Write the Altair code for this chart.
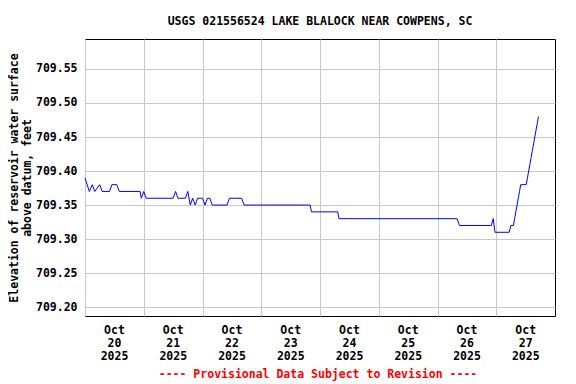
import altair as alt
import pandas as pd

title_text = "USGS 021556524 LAKE BLALOCK NEAR COWPENS, SC"
footer_text = "---- Provisional Data Subject to Revision ----"
y_title = ["Elevation of reservoir water surface", "above datum, feet"]

times = [
    "2025-10-20T00:00", "2025-10-20T01:45", "2025-10-20T03:00", "2025-10-20T04:00",
    "2025-10-20T06:00", "2025-10-20T07:00", "2025-10-20T10:00", "2025-10-20T11:00",
    "2025-10-20T13:00", "2025-10-20T14:00", "2025-10-20T22:30", "2025-10-20T23:00",
    "2025-10-21T00:00", "2025-10-21T01:00", "2025-10-21T12:00", "2025-10-21T13:00",
    "2025-10-21T14:00", "2025-10-21T17:00", "2025-10-21T18:00", "2025-10-21T19:00",
    "2025-10-21T20:00", "2025-10-21T21:00", "2025-10-21T22:00", "2025-10-22T00:00",
    "2025-10-22T01:00", "2025-10-22T02:00", "2025-10-22T03:00", "2025-10-22T04:00",
    "2025-10-22T10:00", "2025-10-22T11:00", "2025-10-22T16:00", "2025-10-22T17:00",
    "2025-10-23T20:00", "2025-10-23T20:30", "2025-10-24T07:15", "2025-10-24T07:45",
    "2025-10-26T08:00", "2025-10-26T09:00", "2025-10-26T21:45", "2025-10-26T22:00",
    "2025-10-26T22:45", "2025-10-26T23:30", "2025-10-27T05:15", "2025-10-27T06:00",
    "2025-10-27T07:00", "2025-10-27T07:30", "2025-10-27T08:00", "2025-10-27T08:30",
    "2025-10-27T09:00", "2025-10-27T09:30", "2025-10-27T10:00", "2025-10-27T12:15",
    "2025-10-27T12:45", "2025-10-27T13:15", "2025-10-27T13:45", "2025-10-27T14:15",
    "2025-10-27T14:45", "2025-10-27T15:15", "2025-10-27T15:45", "2025-10-27T16:15",
    "2025-10-27T16:45", "2025-10-27T17:15",
]
elevation = [
    709.39, 709.37, 709.38, 709.37,
    709.38, 709.37, 709.37, 709.38,
    709.38, 709.37, 709.37, 709.36,
    709.37, 709.36, 709.36, 709.37,
    709.36, 709.36, 709.37, 709.35,
    709.36, 709.35, 709.36, 709.36,
    709.35, 709.36, 709.36, 709.35,
    709.35, 709.36, 709.36, 709.35,
    709.35, 709.34, 709.34, 709.33,
    709.33, 709.32, 709.32, 709.32,
    709.33, 709.31, 709.31, 709.32,
    709.32, 709.33, 709.34, 709.35,
    709.36, 709.37, 709.38, 709.38,
    709.39, 709.40, 709.41, 709.42,
    709.43, 709.44, 709.45, 709.46,
    709.47, 709.48,
]
day_ticks = [20, 21, 22, 23, 24, 25, 26, 27]
y_ticks = [709.20, 709.25, 709.30, 709.35, 709.40, 709.45, 709.50, 709.55]

FONT = "DejaVu Sans Mono"
FS = 11.5

df = pd.DataFrame({"time": times, "elev": elevation})

x_enc = alt.X(
    "time:T",
    scale=alt.Scale(domain=[alt.DateTime(year=2025, month=10, date=20),
                            alt.DateTime(year=2025, month=10, date=28)]),
    axis=alt.Axis(
        values=[alt.DateTime(year=2025, month=10, date=d) for d in day_ticks],
        labelExpr="[timeFormat(datum.value, '%b'), timeFormat(datum.value, '%d'), timeFormat(datum.value, '%Y')]",
        labelOffset=29,
        labelPadding=8,
        labelLineHeight=13,
        labelFlush=False,
        labelOverlap=False,
        ticks=False,
        domain=False,
        grid=True,
        title=None,
    ),
)
y_enc = alt.Y(
    "elev:Q",
    scale=alt.Scale(domain=[709.187, 709.594], nice=False, zero=False),
    axis=alt.Axis(
        values=y_ticks,
        format=".2f",
        labelPadding=8,
        labelFlush=False,
        ticks=False,
        domain=False,
        grid=True,
        title=y_title,
        titlePadding=3,
        titleLineHeight=13,
    ),
)

line = alt.Chart(df).mark_line(color="#0000ff", strokeWidth=1, interpolate="linear").encode(
    x=x_enc, y=y_enc
)

footer = alt.Chart(pd.DataFrame({"t": [footer_text]})).mark_text(
    font=FONT, fontSize=FS, fontWeight="bold", color="#ff0000", baseline="middle", align="center"
).encode(text="t:N", x=alt.value(233), y=alt.value(336))

chart = alt.layer(line, footer).properties(
    width=470,
    height=277,
    background="white",
    autosize=alt.AutoSizeParams(type="none"),
    padding={"left": 77, "top": 31, "right": 5, "bottom": 66},
    title=alt.TitleParams(title_text, font=FONT, fontSize=FS, fontWeight="bold",
                          anchor="middle", offset=12, color="black"),
).configure_view(
    stroke="black", strokeWidth=1
).configure_axis(
    labelFont=FONT, labelFontSize=FS, labelFontWeight="bold", labelColor="black",
    titleFont=FONT, titleFontSize=FS, titleFontWeight="bold", titleColor="black",
    gridColor="#c8c8c8", gridWidth=1, gridOpacity=1,
)

chart.save("out.html", embed_options={"renderer": "svg", "actions": False})
